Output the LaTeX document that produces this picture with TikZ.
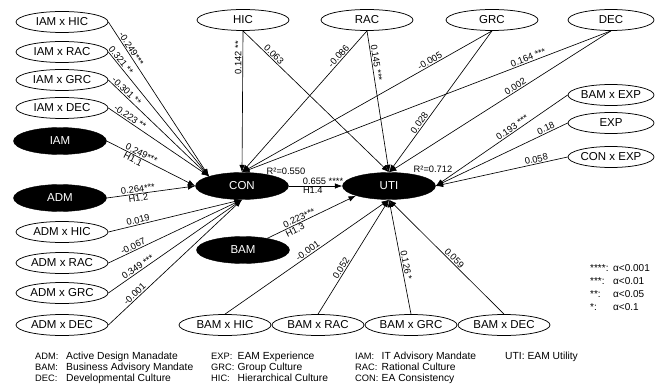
\documentclass[tikz,border=0pt]{standalone}
\usepackage{fontspec}
\setmainfont{Liberation Sans}
\usetikzlibrary{shapes.geometric,arrows.meta}
\begin{document}
\begin{tikzpicture}[x=1pt,y=-1pt,
  wnode/.style={ellipse, draw, line width=0.75pt, minimum width=92pt, minimum height=21pt, inner sep=0pt, font=\fontsize{11.5}{12}\selectfont},
  rnode/.style={wnode, minimum width=86pt},
  bnode/.style={ellipse, fill=black, draw=black, text=white, minimum width=93pt, minimum height=27pt, inner sep=0pt, font=\fontsize{11.5}{12}\selectfont},
  arr/.style={-{Latex[length=7.5pt,width=5.5pt]}, line width=0.65pt},
  efont/.style={font=\fontsize{9.3}{10}\selectfont, inner sep=1pt},
  lab/.style={efont, sloped},
  leg/.style={font=\fontsize{9.3}{11}\selectfont, anchor=base west, inner sep=0pt},
  legd/.style={font=\fontsize{10.3}{11}\selectfont, anchor=base west, inner sep=0pt},
  sig/.style={font=\fontsize{10}{11}\selectfont, anchor=base west, inner sep=0pt},
]
\useasboundingbox (0,0) rectangle (655,390);

% left column
\node[wnode] (iamhic) at (62,22) {IAM x HIC};
\node[wnode] (iamrac) at (62,52) {IAM x RAC};
\node[wnode] (iamgrc) at (62,80) {IAM x GRC};
\node[wnode] (iamdec) at (62,108) {IAM x DEC};
\node[bnode] (iam) at (60,141) {IAM};
\node[bnode] (adm) at (60,198) {ADM};
\node[wnode] (admhic) at (62,232) {ADM x HIC};
\node[wnode] (admrac) at (62,263) {ADM x RAC};
\node[wnode] (admgrc) at (62,293) {ADM x GRC};
\node[wnode] (admdec) at (62,325) {ADM x DEC};
% top row
\node[wnode] (hic) at (243,20) {HIC};
\node[wnode] (rac) at (367,20) {RAC};
\node[wnode] (grc) at (492,20) {GRC};
\node[rnode] (dec) at (611,20) {DEC};
% right column
\node[rnode] (bamexp) at (611,95) {BAM x EXP};
\node[rnode] (exp) at (611,123) {EXP};
\node[rnode] (conexp) at (611,157) {CON x EXP};
% centre
\node[bnode] (con) at (242,186) {CON};
\node[bnode] (uti) at (389,186) {UTI};
\node[bnode] (bam) at (243,250) {BAM};
% bottom row
\node[wnode] (bamhic) at (225,325) {BAM x HIC};
\node[wnode] (bamrac) at (318,325) {BAM x RAC};
\node[wnode] (bamgrc) at (411,325) {BAM x GRC};
\node[wnode] (bamdec) at (504,325) {BAM x DEC};

% edges to CON
\draw[arr] (iamhic.east) -- node[lab,above,pos=0.19]{-0.249***} (con.north west);
\draw[arr] (iamrac.east) -- node[lab,above,pos=0.09]{0.321 **} (con.north west);
\draw[arr] (iamgrc.east) -- node[lab,above,pos=0.15]{-0.301 **} (con.north west);
\draw[arr] (iamdec.east) -- node[lab,above,pos=0.19]{-0.223 **} (con.north west);
\draw[arr] (iam.east) -- node[lab,above,pos=0.37]{0.249***} node[lab,below,pos=0.32]{H1.1} (con.west);
\draw[arr] (adm.east) -- node[lab,above,pos=0.36]{0.264***} node[lab,below,pos=0.35]{H1.2} (con.west);
\draw[arr] (admhic.east) -- node[lab,above,pos=0.23]{0.019} (con.south);
\draw[arr] (admrac.east) -- node[lab,above,pos=0.20]{-0.067} (con.south);
\draw[arr] (admgrc.east) -- node[lab,above,pos=0.24]{0.349 ***} (con.south);
\draw[arr] (admdec.east) -- node[lab,above,pos=0.22]{-0.001} (con.south);
\draw[arr] (hic.south) -- node[efont,pos=0.19,rotate=90,anchor=south]{0.142 **} (con.north);
\draw[arr] (rac.south) -- node[lab,above,pos=0.20]{-0.086} (con.north);
\draw[arr] (grc.south) -- node[lab,above,pos=0.24]{-0.005} (con.north);
\draw[arr] (dec.south) -- node[lab,above,pos=0.22]{0.164 ***} (con.north);

% edges to UTI
\draw[arr] (hic.south) -- node[lab,above,pos=0.19]{0.063} (uti.north);
\draw[arr] (rac.south) -- node[lab,above,pos=0.23]{0.145 ***} (uti.north);
\draw[arr] (grc.south) -- node[lab,above,pos=0.67]{0.028} (uti.north);
\draw[arr] (dec.south) -- node[lab,above,pos=0.42]{0.002} (uti.north);
\draw[arr] (bamexp.west) -- node[lab,above,pos=0.40]{0.193 ***} (uti.east);
\draw[arr] (exp.west) -- node[lab,above,pos=0.15]{0.18} (uti.east);
\draw[arr] (conexp.west) -- node[lab,above,pos=0.23]{0.058} (uti.east);
\draw[arr] (bam) -- node[lab,above,pos=0.38]{0.223***} node[lab,below,pos=0.29]{H1.3} (uti.south west);
\draw[arr] (bamhic.north) -- node[lab,above,pos=0.52]{-0.001} (uti.south);
\draw[arr] (bamrac.north) -- node[lab,above,pos=0.38]{0.052} (uti.south);
\draw[arr] (bamgrc.north) -- node[lab,above,pos=0.42]{0.126 *} (uti.south);
\draw[arr] (bamdec.north) -- node[lab,above,pos=0.46]{0.059} (uti.south);
\draw[arr] (con.east) -- node[lab,above,pos=0.64]{0.655 ****} node[lab,below,pos=0.45]{H1.4} (uti.west);

% R squared
\node[efont] (r2con) at (286,171) {R²=0.550};
\node[efont] (r2uti) at (433,169) {R²=0.712};

% significance legend
\node[sig] (s1a) at (590,271.6) {****:};
\node[sig] (s1b) at (613,271.6) {α<0.001};
\node[sig] (s2a) at (590,284.6) {***:};
\node[sig] (s2b) at (613,284.6) {α<0.01};
\node[sig] (s3a) at (590,297.6) {**:};
\node[sig] (s3b) at (613,297.6) {α<0.05};
\node[sig] (s4a) at (590,310.6) {*:};
\node[sig] (s4b) at (613,310.6) {α<0.1};

% abbreviations legend
\node[leg] (l1a) at (35,359.6) {ADM:};
\node[legd] (l1b) at (66,359.6) {Active Design Manadate};
\node[leg] (l2a) at (35,370.6) {BAM:};
\node[legd] (l2b) at (66,370.6) {Business Advisory Mandate};
\node[leg] (l3a) at (35,381.6) {DEC:};
\node[legd] (l3b) at (66,381.6) {Developmental Culture};
\node[leg] (l4a) at (211,359.6) {EXP:};
\node[legd] (l4b) at (237.5,359.6) {EAM Experience};
\node[leg] (l5a) at (211,370.6) {GRC:};
\node[legd] (l5b) at (237.5,370.6) {Group Culture};
\node[leg] (l6a) at (211,381.6) {HIC:};
\node[legd] (l6b) at (237.5,381.6) {Hierarchical Culture};
\node[leg] (l7a) at (355,359.6) {IAM:};
\node[legd] (l7b) at (381.5,359.6) {IT Advisory Mandate};
\node[leg] (l8a) at (355,370.6) {RAC:};
\node[legd] (l8b) at (381.5,370.6) {Rational Culture};
\node[leg] (l9a) at (355,381.6) {CON:};
\node[legd] (l9b) at (381.5,381.6) {EA Consistency};
\node[legd] (l10) at (505,359.6) {UTI: EAM Utility};
\end{tikzpicture}
\end{document}
